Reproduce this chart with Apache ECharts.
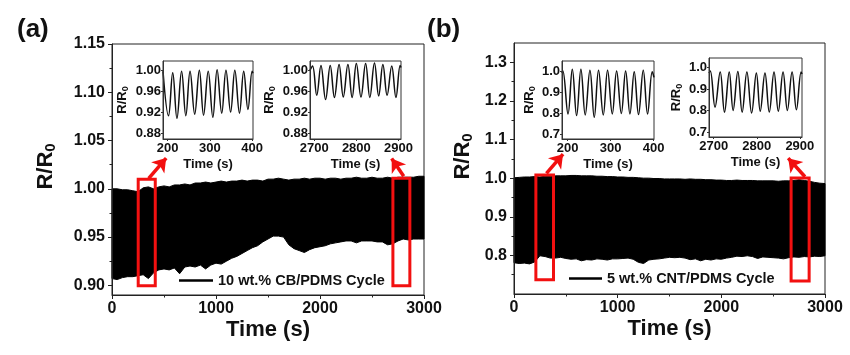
<!DOCTYPE html>
<html><head><meta charset="utf-8">
<script src="https://cdn.jsdelivr.net/npm/echarts@6/dist/echarts.min.js"></script>
<style>html,body{margin:0;padding:0;background:#fff}#c{width:850px;height:355px}</style>
</head><body><div id="c"></div>
<script>
// ---------- data ----------
const mainTime = [0,50,100,150,200,250,300,350,400,450,500,550,600,650,700,750,800,850,900,950,1000,1050,1100,1150,1200,1250,1300,1350,1400,1450,1500,1550,1600,1650,1700,1750,1800,1850,1900,1950,2000,2050,2100,2150,2200,2250,2300,2350,2400,2450,2500,2550,2600,2650,2700,2750,2800,2850,2900,2950,3000];
// (a) 10 wt.% CB/PDMS : upper / lower envelope of the cycling band
const aUpper = [1.000,1.000,0.999,0.999,0.998,0.997,1.001,1.002,1.000,1.002,1.003,1.002,1.004,1.004,1.005,1.004,1.006,1.006,1.007,1.006,1.007,1.008,1.007,1.008,1.008,1.009,1.008,1.009,1.009,1.008,1.010,1.010,1.011,1.010,1.009,1.010,1.010,1.011,1.010,1.011,1.011,1.010,1.011,1.011,1.010,1.011,1.011,1.012,1.011,1.011,1.012,1.011,1.011,1.012,1.011,1.012,1.012,1.012,1.012,1.013,1.013];
const aLower = [0.907,0.906,0.908,0.909,0.909,0.910,0.911,0.907,0.913,0.916,0.917,0.916,0.918,0.912,0.919,0.920,0.919,0.921,0.917,0.921,0.923,0.922,0.925,0.928,0.930,0.933,0.936,0.939,0.941,0.945,0.948,0.951,0.951,0.950,0.942,0.938,0.936,0.934,0.937,0.939,0.940,0.941,0.943,0.944,0.945,0.946,0.946,0.944,0.946,0.946,0.946,0.945,0.945,0.942,0.943,0.946,0.948,0.947,0.948,0.948,0.948];
// (b) 5 wt.% CNT/PDMS
const bUpper = [1.001,1.002,1.003,1.003,1.004,1.003,1.005,1.005,1.006,1.006,1.006,1.007,1.007,1.006,1.006,1.006,1.005,1.005,1.004,1.004,1.003,1.003,1.002,1.002,1.001,1.000,1.000,0.999,0.999,0.998,0.998,0.998,0.998,0.997,0.998,0.997,0.997,0.996,0.996,0.995,0.995,0.994,0.994,0.995,0.994,0.994,0.994,0.993,0.993,0.993,0.993,0.992,0.993,0.993,0.994,0.996,0.994,0.992,0.989,0.987,0.986];
const bLower = [0.781,0.779,0.780,0.778,0.783,0.799,0.797,0.793,0.793,0.795,0.792,0.790,0.791,0.786,0.789,0.788,0.791,0.790,0.788,0.791,0.791,0.792,0.793,0.790,0.782,0.779,0.788,0.790,0.791,0.793,0.795,0.794,0.795,0.793,0.789,0.791,0.786,0.790,0.788,0.791,0.790,0.793,0.795,0.798,0.797,0.799,0.797,0.792,0.796,0.795,0.794,0.793,0.791,0.794,0.796,0.795,0.797,0.796,0.798,0.797,0.799];
// insets: peak / trough samples
const a1Time = [189,202,212,222,233,243,253,264,275,285,296,307,317,328,338,349,359,370,380,390,400,402];
const a1Val  = [0.998,0.913,0.995,0.908,0.998,0.913,0.998,0.916,1.000,0.914,0.998,0.910,1.001,0.918,1.000,0.920,1.000,0.918,0.998,0.925,0.998,0.994];
const a2Time = [2690,2696,2706,2716,2727,2738,2748,2759,2769,2780,2790,2800,2811,2822,2832,2843,2853,2863,2873,2884,2894,2904,2906];
const a2Val  = [1.000,1.008,0.952,1.009,0.944,1.009,0.948,1.011,0.949,1.011,0.948,1.013,0.949,1.013,0.948,1.014,0.951,1.011,0.952,1.008,0.948,1.009,1.005];
const b1Time = [187,189,201,211,221,231,241,252,262,272,283,293,304,314,325,335,345,355,365,376,386,397,401];
const b1Val  = [0.990,1.000,0.798,1.008,0.790,1.008,0.793,1.003,0.782,1.003,0.793,1.003,0.798,1.000,0.800,1.000,0.798,0.997,0.795,1.003,0.798,0.997,0.970];
const b2Time = [2689,2692,2703,2715,2725,2736,2745,2756,2766,2777,2788,2799,2808,2819,2829,2840,2850,2861,2871,2882,2892,2903,2905];
const b2Val  = [0.975,0.985,0.816,0.980,0.793,0.980,0.801,0.982,0.793,0.980,0.789,0.975,0.797,0.975,0.793,0.980,0.797,0.980,0.801,0.980,0.804,0.980,0.970];
// tick labels
const aYTicks = [0.90,0.95,1.00,1.05,1.10,1.15];
const aYMinor = [0.925,0.975,1.025,1.075,1.125];
const bYTicks = [0.8,0.9,1.0,1.1,1.2,1.3];
const bYMinor = [0.75,0.85,0.95,1.05,1.15,1.25];
const aInsetYTicks = [0.88,0.92,0.96,1.00];
const bInsetYTicks = [0.7,0.8,0.9,1.0];
const i1XTicks = [200,300,400];
const i2XTicks = [2700,2800,2900];
const legendA = '10 wt.% CB/PDMS Cycle';
const legendB = '5 wt.% CNT/PDMS Cycle';
// highlighted windows and arrows (data coordinates)
const aAreas = [[[252, 1.0098], [416, 0.8995]], [[2701, 1.0109], [2864, 0.8995]]];
const aArrows = [[[353, 1.0107], [521, 1.0319]], [[2805, 1.013], [2689, 1.0314]]];
const bAreas = [[[211, 1.0082], [381, 0.7369]], [[2673, 1.0005], [2847, 0.7335]]];
const bArrows = [[[313, 1.0123], [473, 1.0621]], [[2807, 1.0036], [2645, 1.0518]]];

// ---------- build ----------
const zip = (x, y) => x.map((v, i) => [v, y[i]]);
const FF = '"Liberation Sans", Arial, sans-serif';
const AX = '#222';
const RED = '#f21010';

function mainX(grid) {
  return {gridIndex: grid, type: 'value', min: 0, max: 3000, interval: 1000, z: 5,
    axisLine: {show: true, lineStyle: {color: AX, width: 1}},
    axisTick: {show: true, inside: false, length: 4, lineStyle: {color: AX}},
    minorTick: {show: true, splitNumber: 2, length: 2.5, lineStyle: {color: AX}},
    axisLabel: {formatter: v => String(v), fontSize: 16, fontWeight: 'bold', color: '#111', fontFamily: FF, margin: 6},
    splitLine: {show: false},
    name: 'Time (s)', nameLocation: 'middle', nameGap: 24, nameMoveOverlap: false,
    nameTextStyle: {fontSize: 22, fontWeight: 'bold', color: '#111', fontFamily: FF}};
}
function mainY(grid, min, max, ticks, dec, gap, pad) {
  return {gridIndex: grid, type: 'value', min: min, max: max, z: 5,
    axisLine: {show: true, lineStyle: {color: AX, width: 1}},
    axisTick: {show: true, length: 4, customValues: ticks, lineStyle: {color: AX}},
    axisLabel: {customValues: ticks, formatter: v => (+v).toFixed(dec), fontSize: 16, fontWeight: 'bold', color: '#111', fontFamily: FF, margin: 7},
    splitLine: {show: false},
    name: '{r|R/R}{s|0}', nameLocation: 'middle', nameGap: gap, nameMoveOverlap: false,
    nameTextStyle: {padding: pad, rich: {
      r: {fontSize: 22, fontWeight: 'bold', color: '#111', fontFamily: FF},
      s: {fontSize: 15, fontWeight: 'bold', color: '#111', fontFamily: FF, padding: [10, 0, 0, 0]}}}};
}
function minorY(grid, min, max, ticks) {
  return {gridIndex: grid, type: 'value', min: min, max: max, position: 'left',
    axisLine: {show: false}, axisLabel: {show: false}, splitLine: {show: false},
    axisTick: {show: true, length: 2.5, customValues: ticks, lineStyle: {color: AX}}};
}
function insetX(grid, min, max, ticks) {
  return {gridIndex: grid, type: 'value', min: min, max: max, z: 6,
    axisLine: {show: true, lineStyle: {color: '#333'}},
    axisTick: {show: true, length: 2, customValues: ticks, lineStyle: {color: '#333'}},
    axisLabel: {customValues: ticks, formatter: v => String(v), fontSize: 13, fontWeight: 'bold', color: '#111', fontFamily: FF, margin: 3},
    splitLine: {show: false},
    name: 'Time (s)', nameLocation: 'middle', nameGap: 19, nameMoveOverlap: false,
    nameTextStyle: {fontSize: 13, fontWeight: 'bold', color: '#111', fontFamily: FF}};
}
function insetY(grid, min, max, ticks, dec, gap) {
  return {gridIndex: grid, type: 'value', min: min, max: max, z: 6,
    axisLine: {show: true, lineStyle: {color: '#333'}},
    axisTick: {show: true, length: 2, customValues: ticks, lineStyle: {color: '#333'}},
    axisLabel: {customValues: ticks, formatter: v => (+v).toFixed(dec), fontSize: 13, fontWeight: 'bold', color: '#111', fontFamily: FF, margin: 2},
    splitLine: {show: false},
    name: '{r|R/R}{s|0}', nameLocation: 'middle', nameGap: gap, nameMoveOverlap: false,
    nameTextStyle: {rich: {
      r: {fontSize: 13, fontWeight: 'bold', color: '#111', fontFamily: FF},
      s: {fontSize: 9, fontWeight: 'bold', color: '#111', fontFamily: FF, padding: [6, 0, 0, 0]}}}};
}
const gridStyle = {show: true, borderColor: AX, borderWidth: 1, containLabel: false, outerBoundsMode: 'none'};

// band between lower and upper envelope, drawn as one polygon through the axes
function bandSeries(xi, yi, lower, upper, name, areas, arrows) {
  return {type: 'custom', name: name, xAxisIndex: xi, yAxisIndex: yi, silent: true, z: 2,
    itemStyle: {color: '#000'},
    data: mainTime.map((t, i) => [t, lower[i], upper[i]]),
    encode: {x: 0, y: [1, 2]},
    renderItem: function (params, api) {
      if (params.dataIndex !== 0) return null;
      const pts = [];
      for (let i = 0; i < mainTime.length; i++) pts.push(api.coord([mainTime[i], upper[i]]));
      for (let i = mainTime.length - 1; i >= 0; i--) pts.push(api.coord([mainTime[i], lower[i]]));
      return {type: 'polygon', shape: {points: pts}, style: {fill: '#000', stroke: '#000', lineWidth: 1}};
    },
    markArea: {silent: true, z: 10, itemStyle: {color: 'rgba(0,0,0,0)', borderColor: RED, borderWidth: 3},
      label: {show: false}, data: areas.map(a => [{coord: a[0]}, {coord: a[1]}])},
    markLine: {silent: true, z: 10, symbol: ['none', 'arrow'], symbolSize: 13,
      lineStyle: {color: RED, width: 3.5, type: 'solid'}, label: {show: false},
      data: arrows.map(a => [{coord: a[0]}, {coord: a[1]}])}};
}
function insetSeries(xi, yi, t, v) {
  return {type: 'line', xAxisIndex: xi, yAxisIndex: yi, data: zip(t, v), smooth: 0.4,
    symbol: 'none', lineStyle: {color: '#111', width: 1.5}, silent: true, z: 3};
}

const option = {
  animation: false,
  backgroundColor: '#fff',
  textStyle: {fontFamily: FF},
  title: [
    {text: '(a)', left: 17, top: 17, padding: 0, textStyle: {fontSize: 26, fontWeight: 'bold', color: '#111', fontFamily: FF}},
    {text: '(b)', left: 427, top: 17, padding: 0, textStyle: {fontSize: 26, fontWeight: 'bold', color: '#111', fontFamily: FF}}
  ],
  legend: [
    {data: [{name: legendA, icon: 'rect', itemStyle: {color: '#000'}}], left: 179, top: 273, padding: 0, itemWidth: 34, itemHeight: 2.5,
      selectedMode: false, textStyle: {fontSize: 14.5, fontWeight: 'bold', color: '#111', fontFamily: FF}},
    {data: [{name: legendB, icon: 'rect', itemStyle: {color: '#000'}}], left: 569, top: 271, padding: 0, itemWidth: 33, itemHeight: 2.5,
      selectedMode: false, textStyle: {fontSize: 14.5, fontWeight: 'bold', color: '#111', fontFamily: FF}}
  ],
  grid: [
    Object.assign({left: 112, top: 44, width: 312, height: 251}, gridStyle),
    Object.assign({left: 163, top: 61, width: 90, height: 78}, gridStyle, {borderColor: '#333'}),
    Object.assign({left: 310, top: 61, width: 91, height: 78}, gridStyle, {borderColor: '#333'}),
    Object.assign({left: 514, top: 43, width: 311, height: 251}, gridStyle),
    Object.assign({left: 562, top: 61, width: 92, height: 78}, gridStyle, {borderColor: '#333'}),
    Object.assign({left: 709, top: 58, width: 93, height: 79}, gridStyle, {borderColor: '#333'})
  ],
  xAxis: [
    mainX(0),
    insetX(1, 189, 402, i1XTicks),
    insetX(2, 2690, 2906, i2XTicks),
    mainX(3),
    insetX(4, 187, 401, i1XTicks),
    insetX(5, 2689, 2905, i2XTicks)
  ],
  yAxis: [
    mainY(0, 0.89, 1.15, aYTicks, 2, 54, [0, 0, 0, 6]),
    insetY(1, 0.8686, 1.0176, aInsetYTicks, 2, 33),
    insetY(2, 0.8686, 1.0176, aInsetYTicks, 2, 33),
    mainY(3, 0.70, 1.35, bYTicks, 1, 39, [0, 0, 0, 24]),
    insetY(4, 0.68, 1.047, bInsetYTicks, 1, 25),
    insetY(5, 0.677, 1.045, bInsetYTicks, 1, 25),
    minorY(0, 0.89, 1.15, aYMinor),
    minorY(3, 0.70, 1.35, bYMinor)
  ],
  series: [
    bandSeries(0, 0, aLower, aUpper, legendA, aAreas, aArrows),
    bandSeries(3, 3, bLower, bUpper, legendB, bAreas, bArrows),
    insetSeries(1, 1, a1Time, a1Val), insetSeries(2, 2, a2Time, a2Val),
    insetSeries(4, 4, b1Time, b1Val), insetSeries(5, 5, b2Time, b2Val)
  ]
};
const chart = echarts.init(document.getElementById('c'), null, {renderer: 'canvas'});
chart.setOption(option);
</script>
</body></html>
